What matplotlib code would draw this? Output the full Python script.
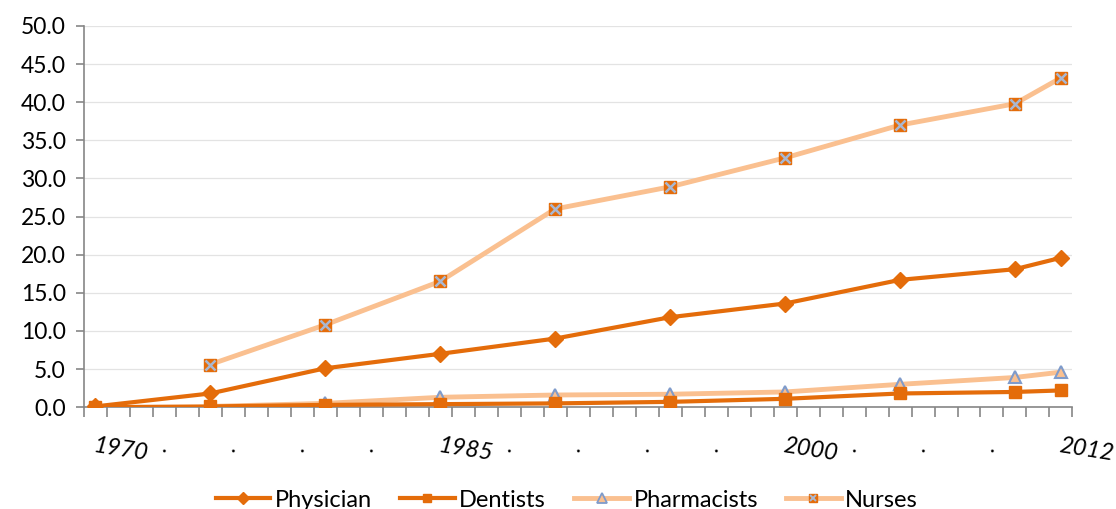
import numpy as np
import matplotlib.pyplot as plt
from matplotlib.lines import Line2D
from matplotlib.ticker import FixedLocator, FormatStrFormatter

plt.rcParams['font.family'] = ['Lato', 'DejaVu Sans']

years = [1970, 1975, 1980, 1985, 1990, 1995, 2000, 2005, 2010, 2012]
physician = [0.1, 1.8, 5.1, 7.0, 9.0, 11.8, 13.6, 16.7, 18.1, 19.6]
dentists = [0.0, 0.1, 0.3, 0.4, 0.5, 0.7, 1.1, 1.8, 2.0, 2.2]
pharmacists = [np.nan, 0.1, 0.5, 1.3, 1.6, 1.7, 2.0, 3.0, 3.9, 4.6]
nurses = [np.nan, 5.6, 10.8, 16.5, 26.0, 28.9, 32.7, 37.0, 39.8, 43.2]

label_years = list(range(1970, 2013, 3))
label_text = ['1970', '.', '.', '.', '.', '1985', '.', '.', '.', '.', '2000', '.', '.', '.', '2012']

dark = '#E46C0A'
light = '#FAC090'
blue = '#7F9BCB'

fig = plt.figure(figsize=(11.16, 5.09), dpi=100)
ax = fig.add_axes([0.075, 0.2, 0.886, 0.749])

ax.plot(years, physician, color=dark, lw=3, marker='D', ms=8, mfc=dark, mec=dark, zorder=4)
ax.plot(years, dentists, color=dark, lw=3, marker='s', ms=8, mfc=dark, mec=dark, zorder=4)
ax.plot(years, pharmacists, color=light, lw=3.5, marker='^', ms=9, mfc=light, mec=blue, mew=1.5, zorder=3)
ax.plot(years, nurses, color=light, lw=3.5, marker='s', ms=8, mfc=dark, mec=dark, zorder=3)
ax.plot(years, nurses, ls='none', marker='x', ms=7, mec='#A9B8D2', mew=1.8, zorder=3)

# legend handles (smaller markers, as in the original)
handles = [
    Line2D([], [], color=dark, lw=3, marker='D', ms=6, mfc=dark, mec=dark),
    Line2D([], [], color=dark, lw=3, marker='s', ms=6, mfc=dark, mec=dark),
    Line2D([], [], color=light, lw=3.5, marker='^', ms=7, mfc=light, mec=blue, mew=1.3),
    (Line2D([], [], color=light, lw=3.5, marker='s', ms=6, mfc=dark, mec=dark),
     Line2D([], [], ls='none', marker='x', ms=5, mec='#A9B8D2', mew=1.4)),
]
labels = ['Physician', 'Dentists', 'Pharmacists', 'Nurses']

ax.set_ylim(0, 50)
ax.set_yticks(np.arange(0, 50.1, 5))
ax.yaxis.set_major_formatter(FormatStrFormatter('%.1f'))
ax.set_xlim(1969.5, 2012.5)
ax.set_xticks(label_years)
ax.set_xticklabels(label_text, rotation=-9, ha='left', rotation_mode='anchor', style='italic')
ax.xaxis.set_minor_locator(FixedLocator(np.arange(1969.5, 2013, 1.0)))
ax.tick_params(axis='x', which='major', length=0, pad=20, labelsize=17)
ax.tick_params(axis='x', which='minor', length=7, color='#868686', width=1.2)
ax.tick_params(axis='y', length=6, color='#868686', width=1.2, labelsize=16.5, pad=7)

ax.grid(axis='y', color='#E3E3E3', lw=0.9)
ax.set_axisbelow(True)
for s in ['top', 'right']:
    ax.spines[s].set_visible(False)
for s in ['left', 'bottom']:
    ax.spines[s].set_color('#868686')
    ax.spines[s].set_linewidth(1.2)

fig.legend(handles, labels, loc='lower center', bbox_to_anchor=(0.508, -0.045), ncol=4,
           frameon=False, fontsize=17, handlelength=2.3, handletextpad=0.2, columnspacing=1.2)

fig.savefig('out.png', dpi=100)
